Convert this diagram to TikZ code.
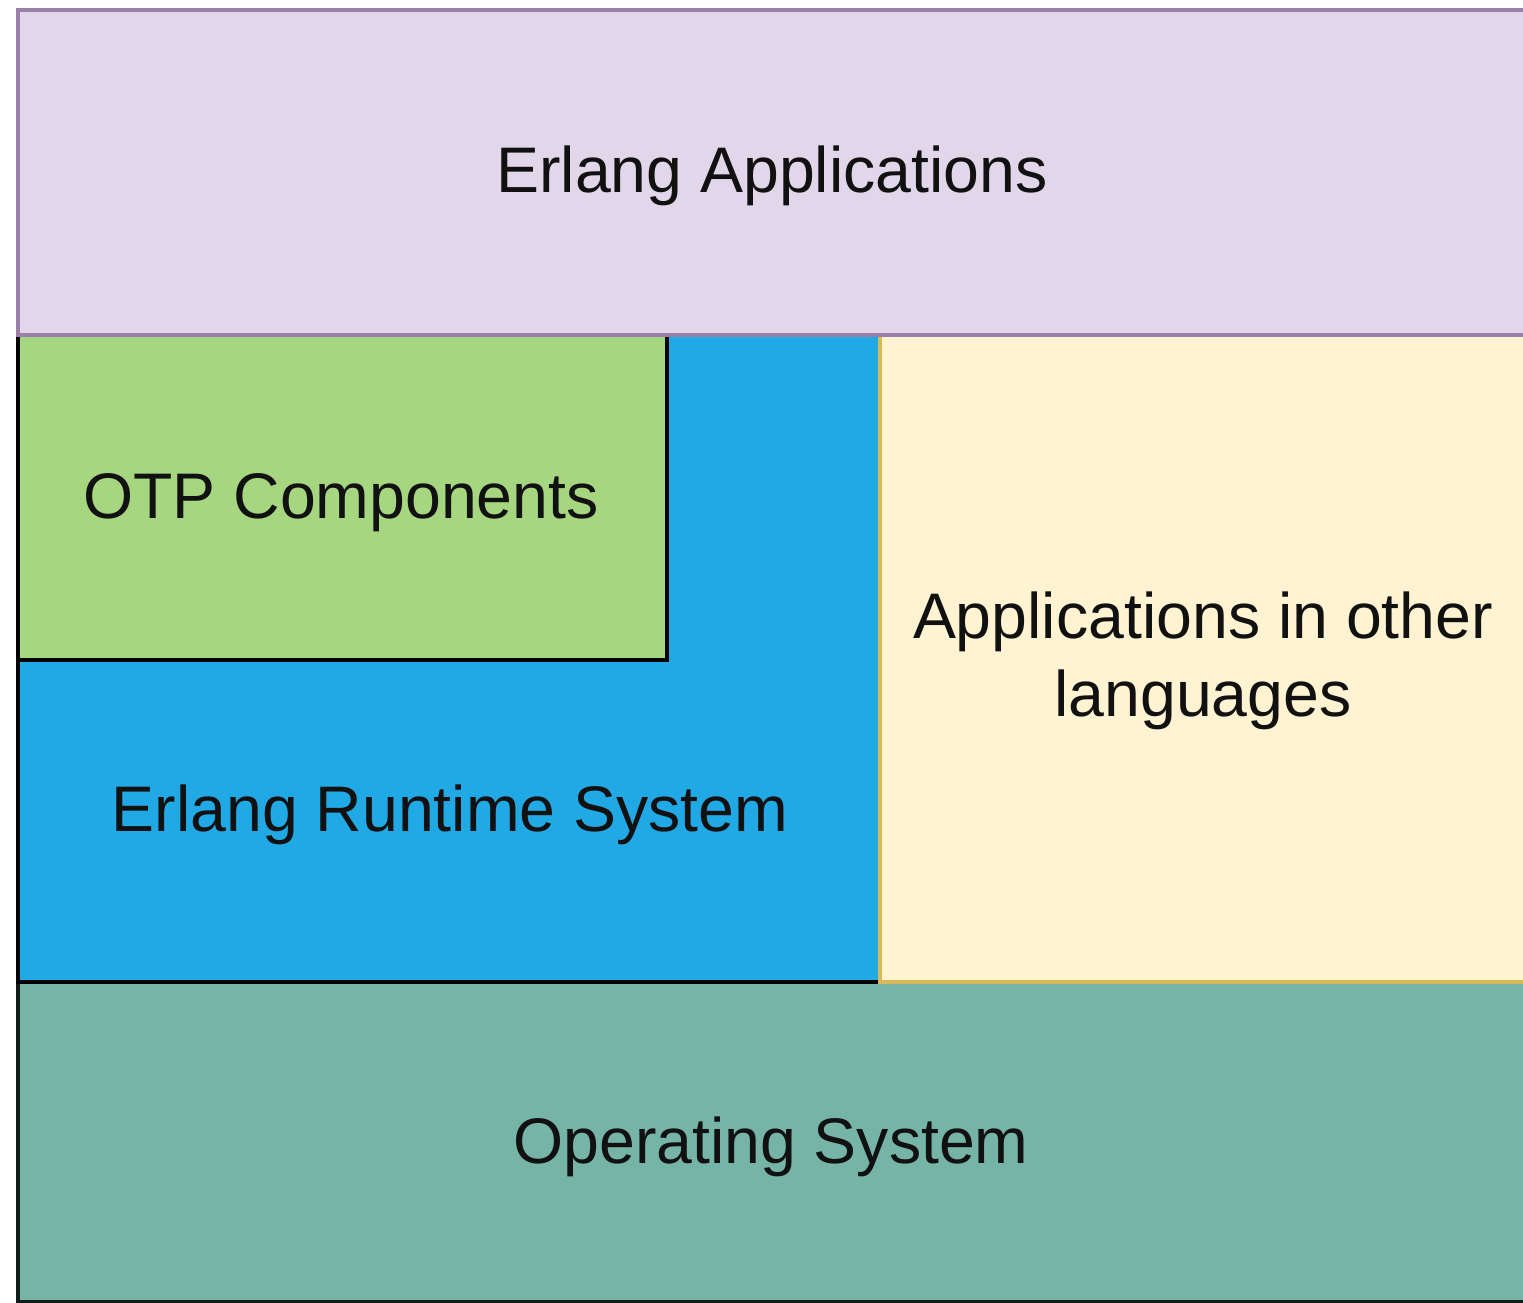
\documentclass[tikz,border=0pt]{standalone}
\usepackage{fontspec}
\setmainfont{Liberation Sans}
\definecolor{purfill}{HTML}{E1D6EA}
\definecolor{purline}{HTML}{9A7FA6}
\definecolor{grnfill}{HTML}{A6D67F}
\definecolor{bluefill}{HTML}{21A9E6}
\definecolor{yelfill}{HTML}{FFF3D1}
\definecolor{yelline}{HTML}{D9B85A}
\definecolor{osfill}{HTML}{75B4A7}
\definecolor{txt}{HTML}{111111}
\begin{document}
\begin{tikzpicture}[x=0.5pt,y=-0.5pt,
  box/.style={line width=1.7pt},
  lbl/.style={anchor=base,inner sep=0pt,text=txt,font=\fontsize{32.2}{38.6}\selectfont}]
\useasboundingbox (0,0) rectangle (1523,1303);
\clip (0,0) rectangle (1523,1303);
\fill[white] (0,0) rectangle (1523,1303);
% boxes
\draw[box,fill=osfill,draw=black!85!osfill] (18,982) rectangle (1540,1302);
\draw[box,fill=bluefill,draw=black] (18,335) rectangle (880,982);
\draw[box,fill=grnfill,draw=black] (18,335) rectangle (667,660);
\draw[box,fill=yelfill,draw=yelline] (880,335) rectangle (1540,982);
\draw[box,fill=purfill,draw=purline] (18,10) rectangle (1540,335);
% labels
\node[lbl] (ea) at (772,192) {Erlang Applications};
\node[lbl] (otp) at (341,518) {OTP Components};
\node[lbl] (ers) at (450,831) {Erlang Runtime System};
\node[lbl] (aol1) at (1203,638) {Applications in other};
\node[lbl] (aol2) at (1203,716) {languages};
\node[lbl] (os) at (771,1163) {Operating System};
\end{tikzpicture}
\end{document}
